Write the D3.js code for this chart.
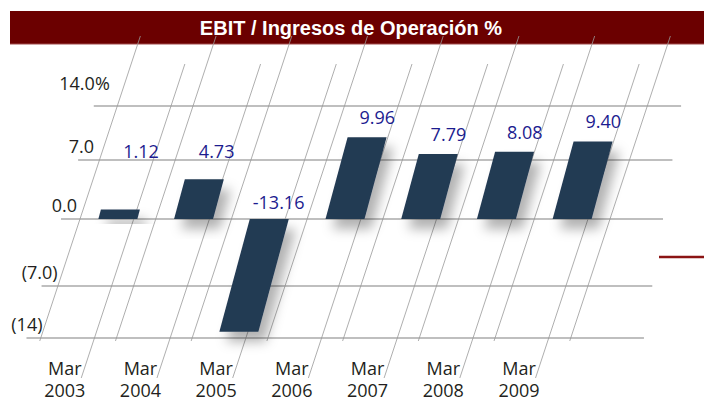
<html>
<head>
  <meta charset="utf-8">
  <title>EBIT / Ingresos de Operación %</title>
  <script src="https://d3js.org/d3.v7.min.js"></script>
  <style>
    body { margin: 0; background: #fff; }
    svg { display: block; }
    .tick-label { font-family: "Open Sans", sans-serif; font-size: 18px; fill: #231f20; }
    .cat-label { font-family: "Open Sans", sans-serif; font-size: 18px; fill: #231f20; }
    .val-label { font-family: "Open Sans", sans-serif; font-size: 18px; fill: #1c1c8f; }
    .title { font-family: "Liberation Sans", Arial, sans-serif; font-size: 20px; font-weight: bold; fill: #fff; }
  </style>
</head>
<body>
<script>
  // data
  var categories = ["Mar 2003", "Mar 2004", "Mar 2005", "Mar 2006", "Mar 2007", "Mar 2008", "Mar 2009"];
  var values = [1.12, 4.73, -13.16, 9.96, 7.79, 8.08, 9.40];
  var valueLabels = ["1.12", "4.73", "-13.16", "9.96", "7.79", "8.08", "9.40"];
  var tickValues = [14, 7, 0, -7, -14];
  var tickLabels = ["14.0%", "7.0", "0.0", "(7.0)", "(14)"];

  var width = 704, height = 402;
  var barSlant = 0.27, lineSlant = 0.33, barW = 39;

  var svg = d3.select("body").append("svg")
      .attr("width", width)
      .attr("height", height);

  var defs = svg.append("defs");
  var f = defs.append("filter").attr("id", "shadow")
      .attr("x", "-50%").attr("y", "-50%").attr("width", "200%").attr("height", "200%");
  f.append("feDropShadow")
      .attr("dx", 7).attr("dy", 10)
      .attr("stdDeviation", 6)
      .attr("flood-color", "#000")
      .attr("flood-opacity", 0.3);

  // perspective-ish value scale (gridlines are not evenly spaced in the original)
  var y = d3.scaleLinear()
      .domain([-14, -7, 0, 7, 14])
      .range([338, 286, 219, 160, 106]);
  var y0 = y(0);

  var x = d3.scaleBand()
      .domain(categories)
      .range([80, 610]);

  var gridLeft = d3.scaleLinear().domain([y0, y0 - 100]).range([61, 90]);
  var gridRight = d3.scaleLinear().domain([y0, y0 - 100]).range([663, 679]);

  // title bar
  svg.append("rect")
      .attr("x", 10).attr("y", 11)
      .attr("width", width - 10).attr("height", 33)
      .attr("fill", "#6b0000");
  svg.append("line")
      .attr("x1", 10).attr("x2", width)
      .attr("y1", 44).attr("y2", 44)
      .attr("stroke", "#a04a4a").attr("stroke-width", 1);
  svg.append("text")
      .attr("class", "title")
      .attr("x", 351).attr("y", 35)
      .attr("text-anchor", "middle")
      .text("EBIT / Ingresos de Operación %");

  // horizontal gridlines
  svg.append("g").selectAll("line")
      .data(tickValues)
      .enter().append("line")
      .attr("x1", function(d) { return gridLeft(y(d)); })
      .attr("x2", function(d) { return gridRight(y(d)); })
      .attr("y1", function(d) { return y(d); })
      .attr("y2", function(d) { return y(d); })
      .attr("stroke", "#aaa")
      .attr("stroke-width", 1.3);

  svg.append("g").selectAll("text")
      .data(tickValues)
      .enter().append("text")
      .attr("class", "tick-label")
      .attr("text-anchor", "end")
      .attr("x", function(d) { return gridLeft(y(d)) + 16; })
      .attr("y", function(d) { return y(d) - (d === 14 ? 16 : 7); })
      .text(function(d, i) { return tickLabels[i]; });

  // slanted dividers
  var bounds = categories.map(function(c) { return x(c); }).concat([x.range()[1]]);
  function slantX(bx, yy) { return bx + (y0 - yy) * lineSlant; }

  svg.append("g").selectAll("line")
      .data(bounds)
      .enter().append("line")
      .attr("x1", function(d) { return slantX(d, 36); })
      .attr("y1", 36)
      .attr("x2", function(d) { return slantX(d, 341); })
      .attr("y2", 341)
      .attr("stroke", "#999")
      .attr("stroke-width", 0.8);

  svg.append("g").selectAll("line")
      .data(bounds.slice(1))
      .enter().append("line")
      .attr("x1", function(d) { return slantX(d - 22, 64); })
      .attr("y1", 64)
      .attr("x2", function(d) { return slantX(d - 22, 378); })
      .attr("y2", 378)
      .attr("stroke", "#999")
      .attr("stroke-width", 0.8);

  // bars (parallelograms)
  function cx(i, yy) { return x(categories[i]) + x.bandwidth() / 2 + (y0 - yy) * barSlant; }

  svg.append("g").selectAll("path")
      .data(values)
      .enter().append("path")
      .attr("filter", "url(#shadow)")
      .attr("fill", "#243a53")
      .attr("d", function(d, i) {
        var yt = y(d);
        return "M" + (cx(i, y0) - barW / 2) + "," + y0 +
               "L" + (cx(i, y0) + barW / 2) + "," + y0 +
               "L" + (cx(i, yt) + barW / 2) + "," + yt +
               "L" + (cx(i, yt) - barW / 2) + "," + yt + "Z";
      });

  // value labels
  function labelY(d) { return d >= 0 ? Math.min(y(d) - 19, y(7) - 8) : y0 - 16; }
  svg.append("g").selectAll("text")
      .data(values)
      .enter().append("text")
      .attr("class", "val-label")
      .attr("text-anchor", "middle")
      .attr("x", function(d, i) { return cx(i, labelY(d)) + 5; })
      .attr("y", function(d) { return labelY(d) + 6; })
      .text(function(d, i) { return valueLabels[i]; });

  // category labels
  function catX(d) { return x(d) + x.bandwidth() / 2 + (y0 - 380) * lineSlant; }
  var cat = svg.append("g").selectAll("text")
      .data(categories)
      .enter().append("text")
      .attr("class", "cat-label")
      .attr("text-anchor", "middle")
      .attr("x", catX)
      .attr("y", 375);
  cat.append("tspan")
      .text(function(d) { return d.split(" ")[0]; });
  cat.append("tspan")
      .attr("x", catX)
      .attr("dy", 22)
      .text(function(d) { return d.split(" ")[1]; });

  // red accent line on the right
  svg.append("line")
      .attr("x1", 659).attr("x2", width)
      .attr("y1", 257).attr("y2", 257)
      .attr("stroke", "#8b1414")
      .attr("stroke-width", 2.5);
</script>
</body>
</html>
